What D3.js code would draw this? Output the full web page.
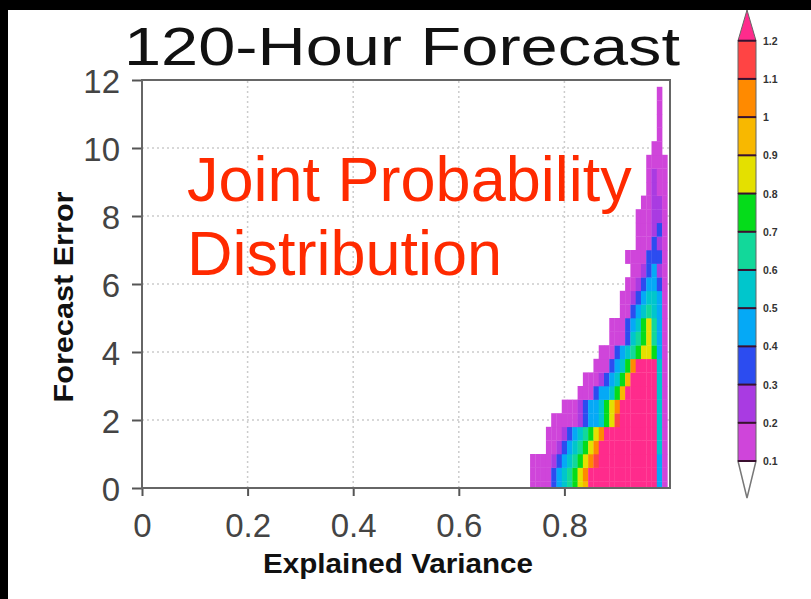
<!DOCTYPE html>
<html>
<head>
<meta charset="utf-8">
<script src="https://cdn.jsdelivr.net/npm/d3@7"></script>
<style>
  body { margin: 0; background: #000; }
  svg { display: block; font-family: "Liberation Sans", Arial, sans-serif; }
</style>
</head>
<body>
<script>
// axis ticks
const yTicks = [0, 2, 4, 6, 8, 10, 12]
const xTicks = [0, 0.2, 0.4, 0.6, 0.8]
const xTickLabels = ['0', '0.2', '0.4', '0.6', '0.8']

// colour levels of the joint probability
const levels = [0.1, 0.2, 0.3, 0.4, 0.5, 0.6, 0.7, 0.8, 0.9, 1.0, 1.1, 1.2]
const levelLabels = ['0.1', '0.2', '0.3', '0.4', '0.5', '0.6', '0.7', '0.8', '0.9', '1', '1.1', '1.2']
const levelColors = ['#ffffff', '#cf45da', '#a93be2', '#2c4cf0', '#05a9f6', '#00c6cc',
  '#12d89a', '#05dc1a', '#e4e000', '#f8b800', '#ff8a00', '#ff4444', '#ff2b8c']

// forecast error of each row (row centre) and explained variance of its first cell
const rowError = [0, 0.4, 0.8, 1.2, 1.6, 2.0, 2.4, 2.8, 3.2, 3.6, 4.0, 4.4, 4.8, 5.2, 5.6,
  6.0, 6.4, 6.8, 7.2, 7.6, 8.0, 8.4, 8.8, 9.2, 9.6, 10.0, 10.4, 10.8, 11.2, 11.6]
const rowStart = [0.74, 0.74, 0.74, 0.77, 0.77, 0.78, 0.80, 0.83, 0.84, 0.86, 0.87, 0.89, 0.89, 0.91, 0.91,
  0.92, 0.93, 0.92, 0.94, 0.94, 0.94, 0.95, 0.96, 0.96, 0.96, 0.97, 0.98, 0.98, 0.98, 0.98]
const cellWidth = 0.01
const cellHeight = 0.4

// probability values per row, cell by cell (step 0.01 in explained variance)
const rowProb = [
  [.12, .15, .15, .15, .35, .45, .55, .65, .75, .85, .95, 1.3, 1.3, 1.3, 1.3, 1.3, 1.3, 1.3, 1.3, 1.3, 1.3, 1.3, 1.3, 1.3, .45, .15],
  [.12, .15, .15, .15, .35, .45, .55, .65, .75, .85, 1.05, 1.3, 1.3, 1.3, 1.3, 1.3, 1.3, 1.3, 1.3, 1.3, 1.3, 1.3, 1.3, 1.3, .45, .15],
  [.15, .15, .15, .15, .25, .35, .45, .55, .65, .75, .85, 1.05, 1.15, 1.3, 1.3, 1.3, 1.3, 1.3, 1.3, 1.3, 1.3, 1.3, 1.3, 1.3, .45, .15],
  [.15, .15, .25, .35, .45, .55, .65, .75, .85, 1.0, 1.3, 1.3, 1.3, 1.3, 1.3, 1.3, 1.3, 1.3, 1.3, 1.3, 1.3, .5, .15],
  [.15, .15, .15, .25, .35, .45, .55, .65, .75, .85, 1.05, 1.3, 1.3, 1.3, 1.3, 1.3, 1.3, 1.3, 1.3, 1.3, 1.3, .5, .15],
  [.12, .12, .15, .15, .15, .25, .35, .45, .45, .55, .75, .85, 1.15, 1.3, 1.3, 1.3, 1.3, 1.3, 1.3, 1.3, .5, .15],
  [.15, .15, .15, .25, .35, .45, .45, .55, .75, .85, 1.05, 1.3, 1.3, 1.3, 1.3, 1.3, 1.3, 1.3, .5, .15],
  [.15, .15, .15, .35, .45, .45, .55, .75, .95, 1.3, 1.3, 1.3, 1.3, 1.3, 1.3, .5, .15],
  [.15, .15, .15, .25, .35, .45, .55, .75, .9, 1.3, 1.3, 1.3, 1.3, 1.3, .5, .15],
  [.12, .15, .15, .35, .45, .55, .75, 1.05, 1.3, 1.3, 1.3, 1.3, .5, .15],
  [.12, .15, .15, .35, .45, .55, .65, .75, .85, .85, .7, .45, .15],
  [.12, .15, .15, .35, .5, .65, .75, .85, .6, .45, .15],
  [.12, .15, .15, .35, .45, .55, .75, .85, .65, .45, .15],
  [.15, .15, .35, .45, .55, .65, .55, .45, .15],
  [.15, .15, .25, .35, .45, .55, .55, .4, .15],
  [.15, .15, .25, .35, .45, .45, .3, .12],
  [.15, .15, .25, .35, .45, .25, .12],
  [.12, .15, .15, .15, .35, .35, .3, .12],
  [.15, .15, .15, .35, .25, .12],
  [.15, .15, .15, .25, .35, .15],
  [.15, .15, .15, .25, .25, .12],
  [.15, .15, .25, .25, .12],
  [.15, .25, .15, .15],
  [.15, .25, .15, .12],
  [.15, .15, .15, .12],
  [.12, .15],
  [.15],
  [.12],
  [.12],
  [.15]
]

const W = 811, H = 599
const svg = d3.select('body').append('svg').attr('width', W).attr('height', H)

// black frame round a white page
svg.append('rect').attr('width', W).attr('height', H).attr('fill', '#000')
svg.append('rect').attr('x', 8).attr('y', 10).attr('width', W - 8).attr('height', H - 10).attr('fill', '#fff')

const x = d3.scaleLinear().domain([0, 1]).range([142, 670])
const y = d3.scaleLinear().domain([0, 12]).range([488, 80])
const color = d3.scaleThreshold().domain(levels).range(levelColors)

// dotted grid
const grid = svg.append('g').attr('stroke', '#cccccc').attr('stroke-width', 1.5).attr('stroke-dasharray', '2,3')
grid.selectAll('.gy').data(yTicks.slice(1, -1)).enter().append('line')
  .attr('x1', x(0)).attr('x2', x(1)).attr('y1', d => y(d)).attr('y2', d => y(d))
grid.selectAll('.gx').data(xTicks.slice(1)).enter().append('line')
  .attr('y1', y(0)).attr('y2', y(12)).attr('x1', d => x(d)).attr('x2', d => x(d))

// raster cells
svg.append('clipPath').attr('id', 'plotClip').append('rect')
  .attr('x', x(0)).attr('y', y(12)).attr('width', x(1) - x(0)).attr('height', y(0) - y(12))
const cells = []
rowProb.forEach((row, i) => {
  row.forEach((v, k) => {
    cells.push({ ev: rowStart[i] + k * cellWidth, err: rowError[i], p: v })
  })
})
svg.append('g').attr('clip-path', 'url(#plotClip)')
  .selectAll('rect').data(cells).enter().append('rect')
  .attr('x', d => x(d.ev - cellWidth / 2))
  .attr('width', d => x(d.ev + cellWidth / 2) - x(d.ev - cellWidth / 2) + 0.3)
  .attr('y', d => y(d.err + cellHeight / 2))
  .attr('height', d => y(d.err - cellHeight / 2) - y(d.err + cellHeight / 2) + 0.3)
  .attr('fill', d => color(d.p))

// axes
const yAxis = svg.append('g').attr('transform', 'translate(' + x(0) + ',0)')
  .call(d3.axisLeft(y).tickValues(yTicks).tickSize(10).tickSizeOuter(0).tickPadding(12))
yAxis.selectAll('text').attr('font-size', 33).attr('fill', '#444').attr('dy', '0.38em')
  .attr('font-family', '"Liberation Sans", Arial, sans-serif')
const xAxis = svg.append('g').attr('transform', 'translate(0,' + y(0) + ')')
  .call(d3.axisBottom(x).tickValues(xTicks).tickFormat((d, i) => xTickLabels[i]).tickSize(8).tickSizeOuter(0).tickPadding(18))
xAxis.selectAll('text').attr('font-size', 33).attr('fill', '#444')
  .attr('font-family', '"Liberation Sans", Arial, sans-serif')
svg.selectAll('.domain').attr('stroke', 'none')
svg.selectAll('.tick line').attr('stroke', '#555').attr('stroke-width', 2)

// frame
svg.append('rect').attr('x', x(0)).attr('y', y(12)).attr('width', x(1) - x(0)).attr('height', y(0) - y(12))
  .attr('fill', 'none').attr('stroke', '#666').attr('stroke-width', 2)

// titles
svg.append('text').attr('x', 124).attr('y', 65).attr('font-size', 53)
  .attr('textLength', 556).attr('lengthAdjust', 'spacingAndGlyphs').attr('fill', '#111')
  .text('120-Hour Forecast')
svg.append('text').attr('x', 398).attr('y', 573).attr('text-anchor', 'middle')
  .attr('font-size', 28).attr('font-weight', 'bold').attr('fill', '#111')
  .attr('textLength', 270).attr('lengthAdjust', 'spacingAndGlyphs')
  .text('Explained Variance')
svg.append('text').attr('transform', 'translate(73,297) rotate(-90)').attr('text-anchor', 'middle')
  .attr('font-size', 28).attr('font-weight', 'bold').attr('fill', '#111')
  .attr('textLength', 211).attr('lengthAdjust', 'spacingAndGlyphs')
  .text('Forecast Error')

// overlay label
const note = svg.append('text').attr('font-size', 63).attr('fill', '#ff2a00')
note.append('tspan').attr('x', 187).attr('y', 201).text('Joint Probability')
note.append('tspan').attr('x', 187).attr('y', 275).text('Distribution')

// colour bar
const cb = d3.scaleLinear().domain([0.1, 1.2]).range([461, 40.7])
const cbX = 738, cbW = 18
const bar = svg.append('g')
bar.selectAll('rect').data(levels.slice(0, -1)).enter().append('rect')
  .attr('x', cbX).attr('width', cbW)
  .attr('y', (d, i) => cb(levels[i + 1]))
  .attr('height', (d, i) => cb(d) - cb(levels[i + 1]))
  .attr('fill', (d, i) => levelColors[i + 1])
  .attr('stroke', '#666').attr('stroke-width', 1)
bar.append('path')
  .attr('d', 'M' + cbX + ',' + cb(1.2) + 'L' + (cbX + cbW / 2) + ',10L' + (cbX + cbW) + ',' + cb(1.2) + 'Z')
  .attr('fill', levelColors[12]).attr('stroke', '#666').attr('stroke-width', 1)
bar.append('path')
  .attr('d', 'M' + cbX + ',' + cb(0.1) + 'L' + (cbX + cbW / 2) + ',498L' + (cbX + cbW) + ',' + cb(0.1) + 'Z')
  .attr('fill', levelColors[0]).attr('stroke', '#777').attr('stroke-width', 1.5)
bar.selectAll('.sep').data(levels).enter().append('line')
  .attr('x1', cbX).attr('x2', cbX + cbW).attr('y1', d => cb(d)).attr('y2', d => cb(d))
  .attr('stroke', '#3a1030').attr('stroke-width', 2)
bar.selectAll('.lab').data(levels).enter().append('text')
  .attr('x', cbX + cbW + 7).attr('y', d => cb(d) + 4)
  .attr('font-size', 10.5).attr('font-weight', 'bold').attr('fill', '#333')
  .text((d, i) => levelLabels[i])
</script>
</body>
</html>
